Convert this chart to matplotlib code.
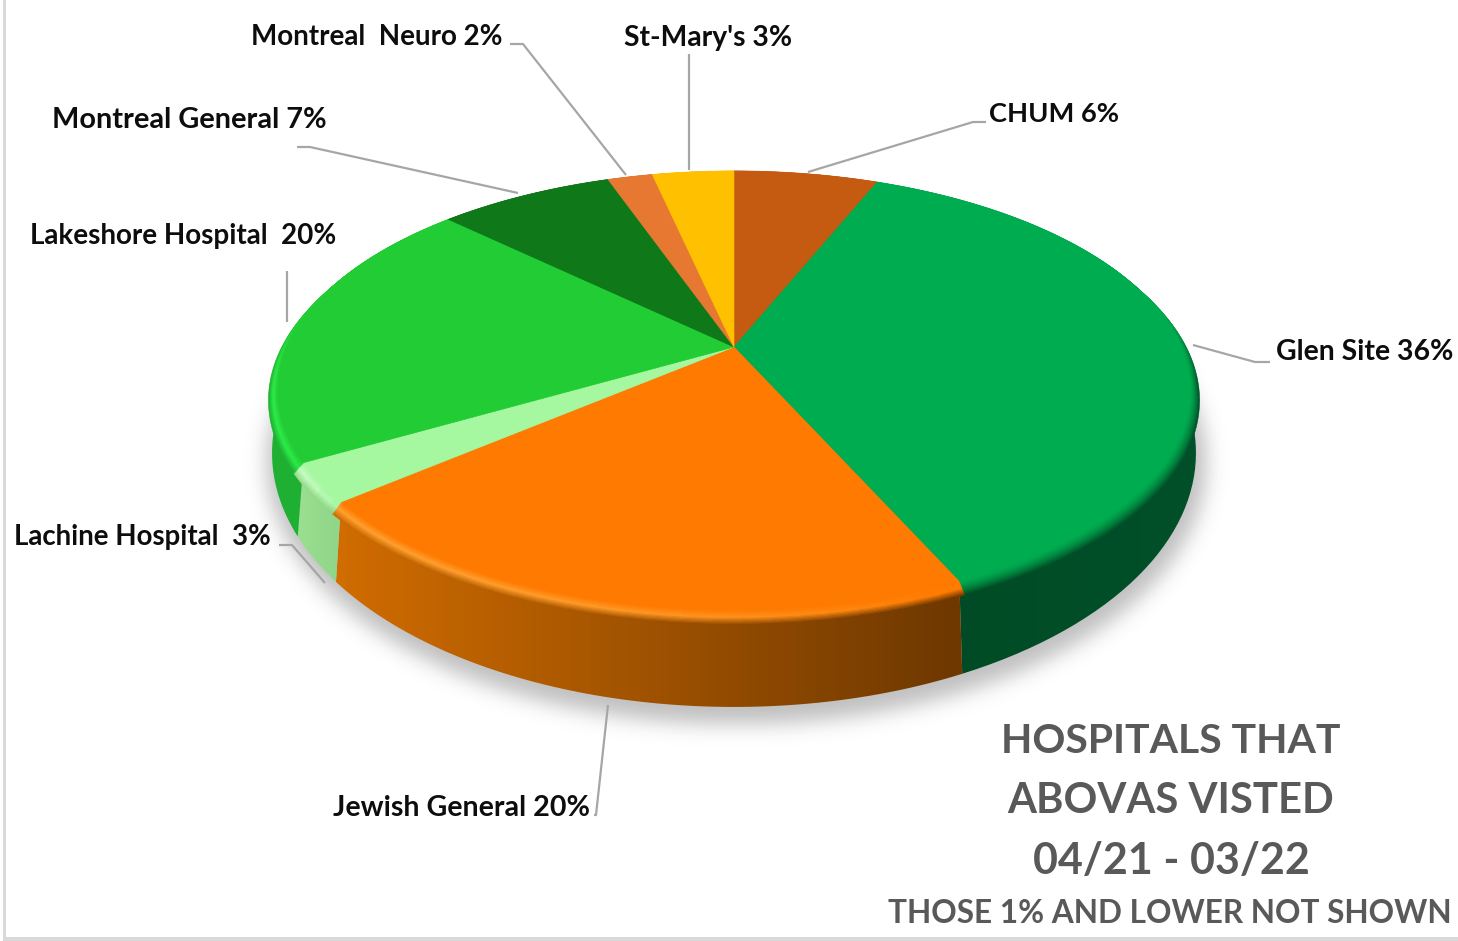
""" 3D looking pie of hospitals visited, with a tilted disc """
import numpy as np
import matplotlib
matplotlib.use("Agg")
from matplotlib import pyplot as plt
from matplotlib.patches import Wedge, Polygon, Rectangle
from matplotlib.path import Path
from matplotlib.transforms import Transform, Affine2D

hospitals = ["CHUM", "Glen Site", "Jewish General", "Lachine Hospital",
             "Lakeshore Hospital", "Montreal General", "Montreal Neuro", "St-Mary's"]
shares = [6.1, 36.49, 20.4, 2.8, 20.0, 7.4, 1.9, 3.45]
top_colors = ["#c55a11", "#00ac50", "#ff7a00", "#a5f7a0",
              "#22cc34", "#0f7819", "#e67832", "#ffc000"]
wall_left = ["#8a3f0c", "#004a24", "#d06c00", "#9ae090",
             "#1fb033", "#0a5512", "#a05020", "#b08800"]
wall_right = ["#8a3f0c", "#005029", "#6e3800", "#90d488",
              "#1fb033", "#0a5512", "#a05020", "#b08800"]
rim_glow = ["#c55a11", "#00ac50", "#ffa030", "#c8fcc4",
            "#2cec48", "#0f7819", "#e67832", "#ffc000"]

label_text = ["CHUM 6%", "Glen Site 36%", "Jewish General 20%", "Lachine Hospital  3%",
              "Lakeshore Hospital  20%", "Montreal General 7%", "Montreal  Neuro 2%", "St-Mary's 3%"]
label_x = [989, 1276, 333, 14, 30, 52, 251, 624]
label_y = [122, 360, 816, 545, 244, 128, 45, 46]
label_size = [19.6, 20.4, 20.6, 19.9, 20.0, 20.8, 20.0, 20.3]
leader_x = [[808, 973, 986], [1193, 1255, 1270], [608, 596, 594], [279, 292, 325],
            [287, 287], [297, 310, 518], [510, 523, 626], [689, 689]]
leader_y = [[172, 122, 122], [345, 362, 362], [705, 815, 815], [545, 545, 583],
            [271, 322], [147, 147, 193], [44, 44, 175], [54, 170]]

title_lines = ["HOSPITALS THAT", "ABOVAS VISTED", "04/21 - 03/22"]
title_y = [753, 813, 874]
title_size = [29.4, 30.1, 31.0]
note = "THOSE 1% AND LOWER NOT SHOWN"

plt.rcParams["font.family"] = ["Lato", "DejaVu Sans"]


class Tilt(Transform):
    """ unit disc seen in perspective, out to pixel coordinates """
    input_dims = 2
    output_dims = 2
    is_affine = False
    has_inverse = False

    def __init__(self, d, a, c, cy, cx=734):
        super().__init__()
        self.d, self.a, self.c, self.cy, self.cx = d, a, c, cy, cx

    def transform_non_affine(self, values):
        u, v = values[:, 0], values[:, 1]
        den = 1 + self.c * v
        return np.column_stack([self.cx + self.d * u / den, self.cy - self.a * v / den])

    def transform_path_non_affine(self, path):
        polys = path.to_polygons(Affine2D().scale(2000), closed_only=True)
        return Path(self.transform_non_affine(polys[0] / 2000), closed=True)


top_tilt = Tilt(447, 211, 0.198, 347)
low_tilt = Tilt(452.8, 244, 0.198, 402.7)


def blur(a, sigma):
    x = np.arange(-3 * sigma, 3 * sigma + 1)
    k = np.exp(-x ** 2 / (2.0 * sigma ** 2))
    k = k / k.sum()
    a = np.apply_along_axis(lambda r: np.convolve(r, k, mode="same"), 0, a)
    return np.apply_along_axis(lambda r: np.convolve(r, k, mode="same"), 1, a)


def mix(c1, c2, t):
    c1 = np.array(matplotlib.colors.to_rgb(c1))
    c2 = np.array(matplotlib.colors.to_rgb(c2))
    return tuple(c1 + (c2 - c1) * t)


fig = plt.figure(figsize=(14.58, 9.41), dpi=100)
ax = fig.add_axes([0, 0, 1, 1])
wedges, _ = ax.pie(shares, colors=top_colors, startangle=90, counterclock=False)
ax.set_aspect("auto")

# soft shadow under the disc
yy, xx = np.mgrid[0:941, 0:1458]
mask = (((xx - 736) / 470.0) ** 2 + ((yy - 462) / 262.0) ** 2 < 1).astype(float)
mask = blur(mask, 10)
shadow = np.zeros((941, 1458, 4))
shadow[..., :3] = 0.55
shadow[..., 3] = mask * 0.55
ax.imshow(shadow, extent=[0, 1458, 941, 0], aspect="auto", zorder=1)

# side wall, one gradient per slice
wall_span = []
for i, w in enumerate(wedges):
    t = np.radians(np.linspace(w.theta1, w.theta2, 80))
    rim = np.column_stack([np.cos(t), np.sin(t)])
    upper = top_tilt.transform_non_affine(rim)
    lower = low_tilt.transform_non_affine(rim)
    pts = np.vstack([upper, lower[::-1]])
    wall_span.append((pts[:, 0].min(), pts[:, 0].max()))
    poly = Polygon(pts, closed=True, fc="none", ec="none", transform=ax.transData)
    ax.add_patch(poly)
    ramp = np.linspace(0, 1, 64)[None, :, None]
    img = np.array(matplotlib.colors.to_rgb(wall_left[i])) * (1 - ramp) + \
        np.array(matplotlib.colors.to_rgb(wall_right[i])) * ramp
    im = ax.imshow(img, extent=[pts[:, 0].min(), pts[:, 0].max(), pts[:, 1].max(), pts[:, 1].min()],
                   aspect="auto", zorder=2)
    im.set_clip_path(poly)

# bevel round the front of the disc, outer copies first
# the back of the rim keeps the face colour so no band shows there
steps = 12
for k in range(steps, 0, -1):
    f = k / float(steps)
    tr = top_tilt + Affine2D().translate(0, 8 * f) + ax.transData
    for i, w in enumerate(wedges):
        edges = np.arange(w.theta1, w.theta2, 3.0).tolist() + [w.theta2]
        for a, b in zip(edges[:-1], edges[1:]):
            mid = np.radians((a + b) / 2.0)
            xm = top_tilt.transform_non_affine(np.array([[np.cos(mid), np.sin(mid)]]))[0, 0]
            pos = np.clip((xm - wall_span[i][0]) / (wall_span[i][1] - wall_span[i][0]), 0, 1)
            wall = mix(wall_left[i], wall_right[i], pos)
            glow = mix(rim_glow[i], top_colors[i], pos ** 2)
            if i == 1:
                col = mix(top_colors[i], wall, f ** 1.5)
            elif f > 0.5:
                col = mix(glow, wall, (f - 0.5) / 0.5)
            else:
                col = mix(top_colors[i], glow, f / 0.5)
            front = np.clip((0.25 - np.sin(mid)) / 0.4, 0, 1)
            c2 = mix(top_colors[i], col, front)
            ax.add_patch(Wedge((0, 0), 1 + 0.02 * f, a, b, fc=c2, ec=c2, lw=0.4,
                               transform=tr, zorder=3))

for w, c in zip(wedges, top_colors):
    w.set_transform(top_tilt + ax.transData)
    w.set_edgecolor(c)
    w.set_linewidth(0.4)
    w.set_zorder(4)

for xs, ys in zip(leader_x, leader_y):
    ax.plot(xs, ys, color="#a6a6a6", lw=1.6, zorder=5, solid_capstyle="butt")

for s, x, y, size in zip(label_text, label_x, label_y, label_size):
    ax.text(x, y, s, fontsize=size, fontweight="bold", color="#0d0d0d", ha="left", va="baseline", zorder=6)

for s, y, size in zip(title_lines, title_y, title_size):
    ax.text(1171, y, s, fontsize=size, fontweight="bold", color="#595959", ha="center", va="baseline", zorder=6)
ax.text(1170, 923, note, fontsize=22.8, fontweight="bold", color="#595959", ha="center", va="baseline", zorder=6)

ax.set_xlim(0, 1458)
ax.set_ylim(941, 0)
ax.axis("off")

# outer frame of the picture
ax.add_patch(Rectangle((3, 0), 3, 941, fc="#d9d9d9", ec="none", zorder=7))
ax.add_patch(Rectangle((3, 937), 1455, 4, fc="#d9d9d9", ec="none", zorder=7))

fig.savefig("out.png", dpi=100)
